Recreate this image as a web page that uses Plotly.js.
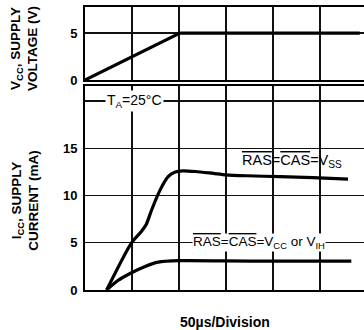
<!DOCTYPE html>
<html><head><meta charset="utf-8">
<script src="https://cdn.plot.ly/plotly-3.0.1.min.js"></script>
<style>html,body{margin:0;padding:0;background:#fff;} #chart{width:364px;height:330px;}</style>
</head><body><div id="chart"></div>
<script>
// Time axis in divisions (50 µs per division)
const vccTime = [0, 2.02, 5.85];
const vccVolts = [0, 5, 5];

const vssTime = [0.46, 0.99, 1.2, 1.3, 1.42, 1.6, 1.77, 1.92, 2.08, 2.35, 2.73, 3.0, 3.44, 4.15, 4.85, 5.6];
const vssCurrent = [0, 5.0, 6.2, 6.9, 8.5, 10.6, 12.0, 12.5, 12.62, 12.55, 12.35, 12.2, 12.1, 12.0, 11.9, 11.75];

const vihTime = [0.46, 0.7, 1.0, 1.28, 1.56, 2.0, 3.0, 4.0, 5.0, 5.67];
const vihCurrent = [0, 1.0, 1.85, 2.5, 2.95, 3.1, 3.08, 3.05, 3.05, 3.05];

const voltTicks = [0, 5];
const voltTickText = ["0", "5"];
const currTicks = [0, 5, 10, 15, 20];
const currTickText = ["0", "5", "10", "15", ""];

const FONT = "Liberation Sans, Arial, Helvetica, sans-serif";
const ol = s => '<span style="text-decoration:overline">' + s + '</span>';

const lineStyle = {color: '#000', width: 3.2, shape: 'spline', smoothing: 0.7};

const traces = [
  {x: vccTime, y: vccVolts, xaxis: 'x2', yaxis: 'y2', mode: 'lines', line: {color: '#000', width: 3.2}, hoverinfo: 'skip'},
  {x: vssTime, y: vssCurrent, xaxis: 'x', yaxis: 'y', mode: 'lines', line: lineStyle, hoverinfo: 'skip'},
  {x: vihTime, y: vihCurrent, xaxis: 'x', yaxis: 'y', mode: 'lines', line: lineStyle, hoverinfo: 'skip'}
];

const xCommon = {
  range: [0, 5.94], dtick: 1, tick0: 0, showgrid: true, gridcolor: '#111', gridwidth: 1.3,
  zeroline: false, showline: true, linecolor: '#000', linewidth: 2, mirror: true,
  showticklabels: false, ticks: '', fixedrange: true
};
const yCommon = {
  showgrid: true, gridcolor: '#111', gridwidth: 1.3, zeroline: false,
  showline: true, linecolor: '#000', linewidth: 2, mirror: false, ticks: '',
  tickmode: 'array', tickfont: {family: FONT, size: 13, color: '#000', weight: 'bold'},
  ticklabelstandoff: 3, fixedrange: true
};

const layout = {
  width: 364, height: 330,
  margin: {l: 85, r: 0, t: 7, b: 40, pad: 0},
  paper_bgcolor: '#fff', plot_bgcolor: '#fff',
  showlegend: false,
  font: {family: FONT, color: '#000'},
  xaxis: Object.assign({}, xCommon, {anchor: 'y'}),
  xaxis2: Object.assign({}, xCommon, {anchor: 'y2', matches: 'x'}),
  yaxis: Object.assign({}, yCommon, {domain: [0, 0.7208], range: [0, 21.6], tickvals: currTicks, ticktext: currTickText, anchor: 'x'}),
  yaxis2: Object.assign({}, yCommon, {domain: [0.742, 1], range: [0, 7.77], tickvals: voltTicks, ticktext: voltTickText, anchor: 'x2'}),
  annotations: [
    {xref: 'paper', yref: 'paper', x: -0.219, y: 0.855, text: 'V<sub>CC</sub>, SUPPLY<br>VOLTAGE (V)', textangle: -90, showarrow: false,
     xanchor: 'center', yanchor: 'middle', font: {family: FONT, size: 13.5, weight: 'bold'}},
    {xref: 'paper', yref: 'paper', x: -0.216, y: 0.318, text: 'I<sub>CC</sub>, SUPPLY<br>CURRENT (mA)', textangle: -90, showarrow: false,
     xanchor: 'center', yanchor: 'middle', font: {family: FONT, size: 13.5, weight: 'bold'}},
    {xref: 'x', yref: 'y', x: 1.05, y: 20, text: 'T<sub>A</sub>=25°C', showarrow: false, bgcolor: '#fff',
     xanchor: 'center', yanchor: 'middle', borderpad: 1, font: {family: FONT, size: 14}},
    {xref: 'x', yref: 'y', x: 4.4, y: 13.7, text: ol('RAS') + '=' + ol('CAS') + '=V<sub>SS</sub>', showarrow: false,
     xanchor: 'center', yanchor: 'middle', font: {family: FONT, size: 14.5}},
    {xref: 'x', yref: 'y', x: 3.7, y: 5.0, text: ol('RAS') + '=' + ol('CAS') + '=V<sub>CC</sub> or V<sub>IH</sub>', showarrow: false, bgcolor: '#fff',
     xanchor: 'center', yanchor: 'middle', borderpad: 0, font: {family: FONT, size: 13.5}},
    {xref: 'paper', yref: 'paper', x: 0.5, y: -0.113, text: '50µs/Division', showarrow: false,
     xanchor: 'center', yanchor: 'middle', font: {family: FONT, size: 14, weight: 'bold'}}
  ]
};

Plotly.newPlot('chart', traces, layout, {staticPlot: true, displayModeBar: false});
</script>
</body></html>
